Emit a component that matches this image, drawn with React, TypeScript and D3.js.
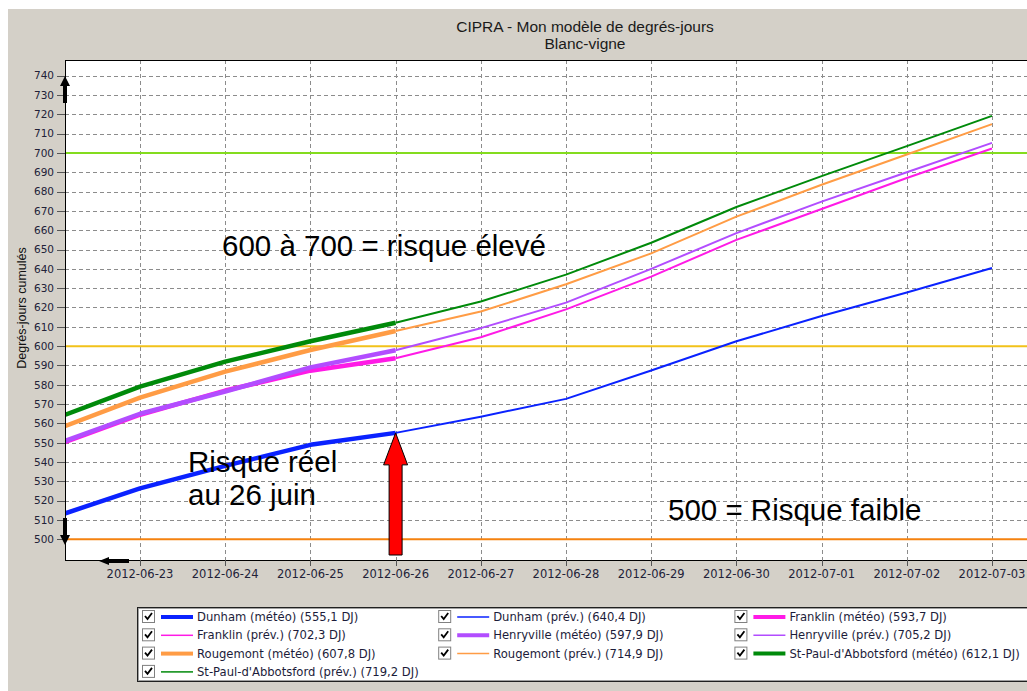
import React from "react";
import * as d3 from "d3";

// ---------- DATA ----------
const dayLabels = [
  "2012-06-23", "2012-06-24", "2012-06-25", "2012-06-26", "2012-06-27", "2012-06-28",
  "2012-06-29", "2012-06-30", "2012-07-01", "2012-07-02", "2012-07-03",
];
const meteoDates = ["2012-06-22 03:00", "2012-06-23 00:00", "2012-06-24 00:00", "2012-06-25 00:00", "2012-06-26 00:00"];
const prevDates = [
  "2012-06-26 00:00", "2012-06-27 00:00", "2012-06-28 00:00", "2012-06-29 00:00",
  "2012-06-30 00:00", "2012-07-01 00:00", "2012-07-02 00:00", "2012-07-03 00:00",
];

const stations = ["Dunham", "Franklin", "Henryville", "Rougemont", "St-Paul-d'Abbotsford"];
const stationColors = ["#0a22ff", "#ff1ae6", "#b24dff", "#ff9c45", "#008a0a"];

const dunhamMeteo = [513.5, 526.4, 538.0, 548.9, 555.1];
const dunhamPrev = [555.1, 563.5, 572.7, 587.4, 602.5, 615.6, 627.8, 640.4];
const franklinMeteo = [550.5, 564.5, 577.0, 587.3, 593.7];
const franklinPrev = [593.7, 604.6, 619.0, 636.0, 655.0, 671.0, 687.0, 702.3];
const henryvilleMeteo = [551.0, 565.0, 576.5, 589.0, 597.9];
const henryvillePrev = [597.9, 609.3, 622.5, 640.0, 658.5, 674.8, 690.0, 705.2];
const rougemontMeteo = [558.7, 573.3, 586.8, 598.0, 607.8];
const rougemontPrev = [607.8, 617.9, 632.0, 648.0, 667.0, 683.5, 699.2, 714.9];
const stPaulMeteo = [564.5, 579.0, 592.0, 602.5, 612.1];
const stPaulPrev = [612.1, 623.1, 637.0, 653.5, 672.0, 688.0, 703.5, 719.2];

const meteoSeries = [dunhamMeteo, franklinMeteo, henryvilleMeteo, rougemontMeteo, stPaulMeteo];
const prevSeries = [dunhamPrev, franklinPrev, henryvillePrev, rougemontPrev, stPaulPrev];

const yTicks = [500, 510, 520, 530, 540, 550, 560, 570, 580, 590, 600, 610, 620, 630, 640, 650, 660, 670, 680, 690, 700, 710, 720, 730, 740];
const thresholds = [500, 600, 700];
const thresholdColors = ["#f5820f", "#f2c21a", "#84dc1e"];

const annotationDate = "2012-06-26 00:00";

// ---------- LAYOUT ----------
const W = 1027;
const H = 691;
const plotL = 65;
const plotT = 60;
const plotB = 560;
const plotR = 1100;

const parse = d3.timeParse("%Y-%m-%d %H:%M");
const parseDay = d3.timeParse("%Y-%m-%d");

const x = d3
  .scaleTime()
  .domain([parseDay(dayLabels[0]) as Date, parseDay(dayLabels[dayLabels.length - 1]) as Date])
  .range([140, 992]);
const y = d3.scaleLinear().domain([489.3, 748.1]).range([plotB, plotT]);

const line = d3
  .line<[Date, number]>()
  .x((d) => x(d[0]))
  .y((d) => y(d[1]));

const fmt = (v: number) => v.toFixed(1).replace(".", ",");

const tickFont = "'DejaVu Sans', Verdana, sans-serif";
const titleFont = "'Liberation Sans', Arial, sans-serif";

export default function App() {
  const meteoPts = meteoSeries.map((s) => s.map((v, i) => [parse(meteoDates[i]) as Date, v] as [Date, number]));
  const prevPts = prevSeries.map((s) => s.map((v, i) => [parse(prevDates[i]) as Date, v] as [Date, number]));

  const legendItems: { label: string; color: string; thick: boolean }[] = [];
  stations.forEach((st, i) => {
    legendItems.push({ label: `${st} (météo) (${fmt(meteoSeries[i][meteoSeries[i].length - 1])} DJ)`, color: stationColors[i], thick: true });
    legendItems.push({ label: `${st} (prév.) (${fmt(prevSeries[i][prevSeries[i].length - 1])} DJ)`, color: stationColors[i], thick: false });
  });

  const ax = x(parse(annotationDate) as Date);
  const ay = y(dunhamMeteo[dunhamMeteo.length - 1]);

  return (
    <svg width={W} height={H} style={{ display: "block", position: "absolute", left: 0, top: 0 }}>
      <defs>
        <clipPath id="plotclip">
          <rect x={plotL} y={plotT} width={plotR - plotL} height={plotB - plotT} />
        </clipPath>
      </defs>
      <rect x={0} y={0} width={W} height={H} fill="#ffffff" />
      <rect x={8} y={9} width={W} height={H} fill="#d4d0c8" />
      {/* title */}
      <text x={585} y={32} textAnchor="middle" fontFamily={titleFont} fontSize={15.5} fill="#1a1a1a">
        CIPRA - Mon modèle de degrés-jours
      </text>
      <text x={585} y={49} textAnchor="middle" fontFamily={titleFont} fontSize={15.5} fill="#1a1a1a">
        Blanc-vigne
      </text>

      <rect x={plotL} y={plotT} width={plotR - plotL} height={plotB - plotT} fill="#ffffff" />

      {/* grid */}
      <g stroke="#8c8c8c" strokeWidth={1} strokeDasharray="4,3" shapeRendering="crispEdges">
        {yTicks.map((t) => (
          <line key={"gy" + t} x1={plotL} x2={plotR} y1={Math.round(y(t)) + 0.5} y2={Math.round(y(t)) + 0.5} />
        ))}
        {dayLabels.map((d) => {
          const xx = Math.round(x(parseDay(d) as Date)) + 0.5;
          return <line key={"gx" + d} x1={xx} x2={xx} y1={plotT} y2={plotB} />;
        })}
      </g>

      {/* thresholds */}
      {thresholds.map((t, i) => (
        <line key={"th" + t} x1={plotL} x2={plotR} y1={y(t)} y2={y(t)} stroke={thresholdColors[i]} strokeWidth={2} />
      ))}

      {/* series */}
      <g clipPath="url(#plotclip)" fill="none" strokeLinejoin="round">
        {stations.map((st, i) => (
          <g key={st}>
            <path d={line(meteoPts[i]) || ""} stroke={stationColors[i]} strokeWidth={4.5} />
            <path d={line(prevPts[i]) || ""} stroke={stationColors[i]} strokeWidth={2} />
          </g>
        ))}
      </g>

      {/* axes */}
      <g stroke="#000" strokeWidth={1} shapeRendering="crispEdges">
        <line x1={plotL} x2={plotL} y1={plotT} y2={plotB} />
        <line x1={plotL} x2={plotR} y1={plotB} y2={plotB} />
        <line x1={plotL} x2={plotR} y1={plotT} y2={plotT} />
      </g>
      <g stroke="#555" strokeWidth={1} shapeRendering="crispEdges">
        {yTicks.map((t) => (
          <line key={"ty" + t} x1={plotL - 8} x2={plotL} y1={Math.round(y(t)) + 0.5} y2={Math.round(y(t)) + 0.5} />
        ))}
        {dayLabels.map((d) => {
          const xx = Math.round(x(parseDay(d) as Date)) + 0.5;
          return <line key={"tx" + d} x1={xx} x2={xx} y1={plotB} y2={plotB + 6} />;
        })}
      </g>
      <g fontFamily={tickFont} fill="#222238">
        {yTicks.map((t) => (
          <text key={"ly" + t} x={plotL - 11} y={y(t)} dy="0.36em" textAnchor="end" fontSize={10.5}>
            {t}
          </text>
        ))}
        {dayLabels.map((d) => (
          <text key={"lx" + d} x={x(parseDay(d) as Date)} y={578} textAnchor="middle" fontSize={11.5}>
            {d}
          </text>
        ))}
      </g>
      <text
        transform={`translate(26,${(plotT + plotB) / 2 - 2}) rotate(-90)`}
        textAnchor="middle"
        fontFamily={titleFont}
        fontSize={12.5}
        fill="#111"
      >
        Degrés-jours cumulés
      </text>

      {/* black scroll arrows */}
      <path d="M65,76 L70,86 L67,86 L67,103 L63,103 L63,86 L60,86 Z" fill="#000" />
      <path d="M65,545 L70,535 L67,535 L67,518 L63,518 L63,535 L60,535 Z" fill="#000" />
      <path d="M99,561 L109,557 L109,559 L129,559 L129,563 L109,563 L109,565 Z" fill="#000" />

      {/* annotations */}
      <g fontFamily={titleFont} fontSize={29.5} fill="#000">
        <text x={222} y={256}>600 à 700 = risque élevé</text>
        <text x={188} y={472}>Risque réel</text>
        <text x={188} y={505}>au 26 juin</text>
        <text x={668} y={520}>500 = Risque faible</text>
      </g>

      {/* red arrow */}
      <path
        d={`M${ax},${ay} L${ax + 12},${ay + 32} L${ax + 6.5},${ay + 32} L${ax + 6.5},555 L${ax - 6.5},555 L${ax - 6.5},${ay + 32} L${ax - 12},${ay + 32} Z`}
        fill="#ff0000"
        stroke="#000"
        strokeWidth={1}
      />

      {/* legend */}
      <rect x={137.5} y={607.5} width={1000} height={74} fill="#ffffff" stroke="#202020" strokeWidth={1} />
      <rect x={138.5} y={608.5} width={1000} height={72} fill="none" stroke="#a0a0a0" strokeWidth={1} />
      {legendItems.map((it, i) => {
        const col = i % 3;
        const row = Math.floor(i / 3);
        const cx = 142 + col * 296.2;
        const cy = 617 + row * 18.3;
        return (
          <g key={it.label}>
            <rect x={cx + 0.5} y={cy - 6.5} width={12} height={12} fill="#fff" stroke="#808080" strokeWidth={1} />
            <path d={`M${cx + 3},${cy - 1} L${cx + 5.5},${cy + 2} L${cx + 10},${cy - 4}`} fill="none" stroke="#000" strokeWidth={1.8} />
            <line x1={cx + 19} x2={cx + 51} y1={cy} y2={cy} stroke={it.color} strokeWidth={it.thick ? 4 : 1.5} />
            <text x={cx + 55} y={cy} dy="0.36em" fontFamily={tickFont} fontSize={11.6} fill="#1c1c3a">
              {it.label}
            </text>
          </g>
        );
      })}
    </svg>
  );
}
